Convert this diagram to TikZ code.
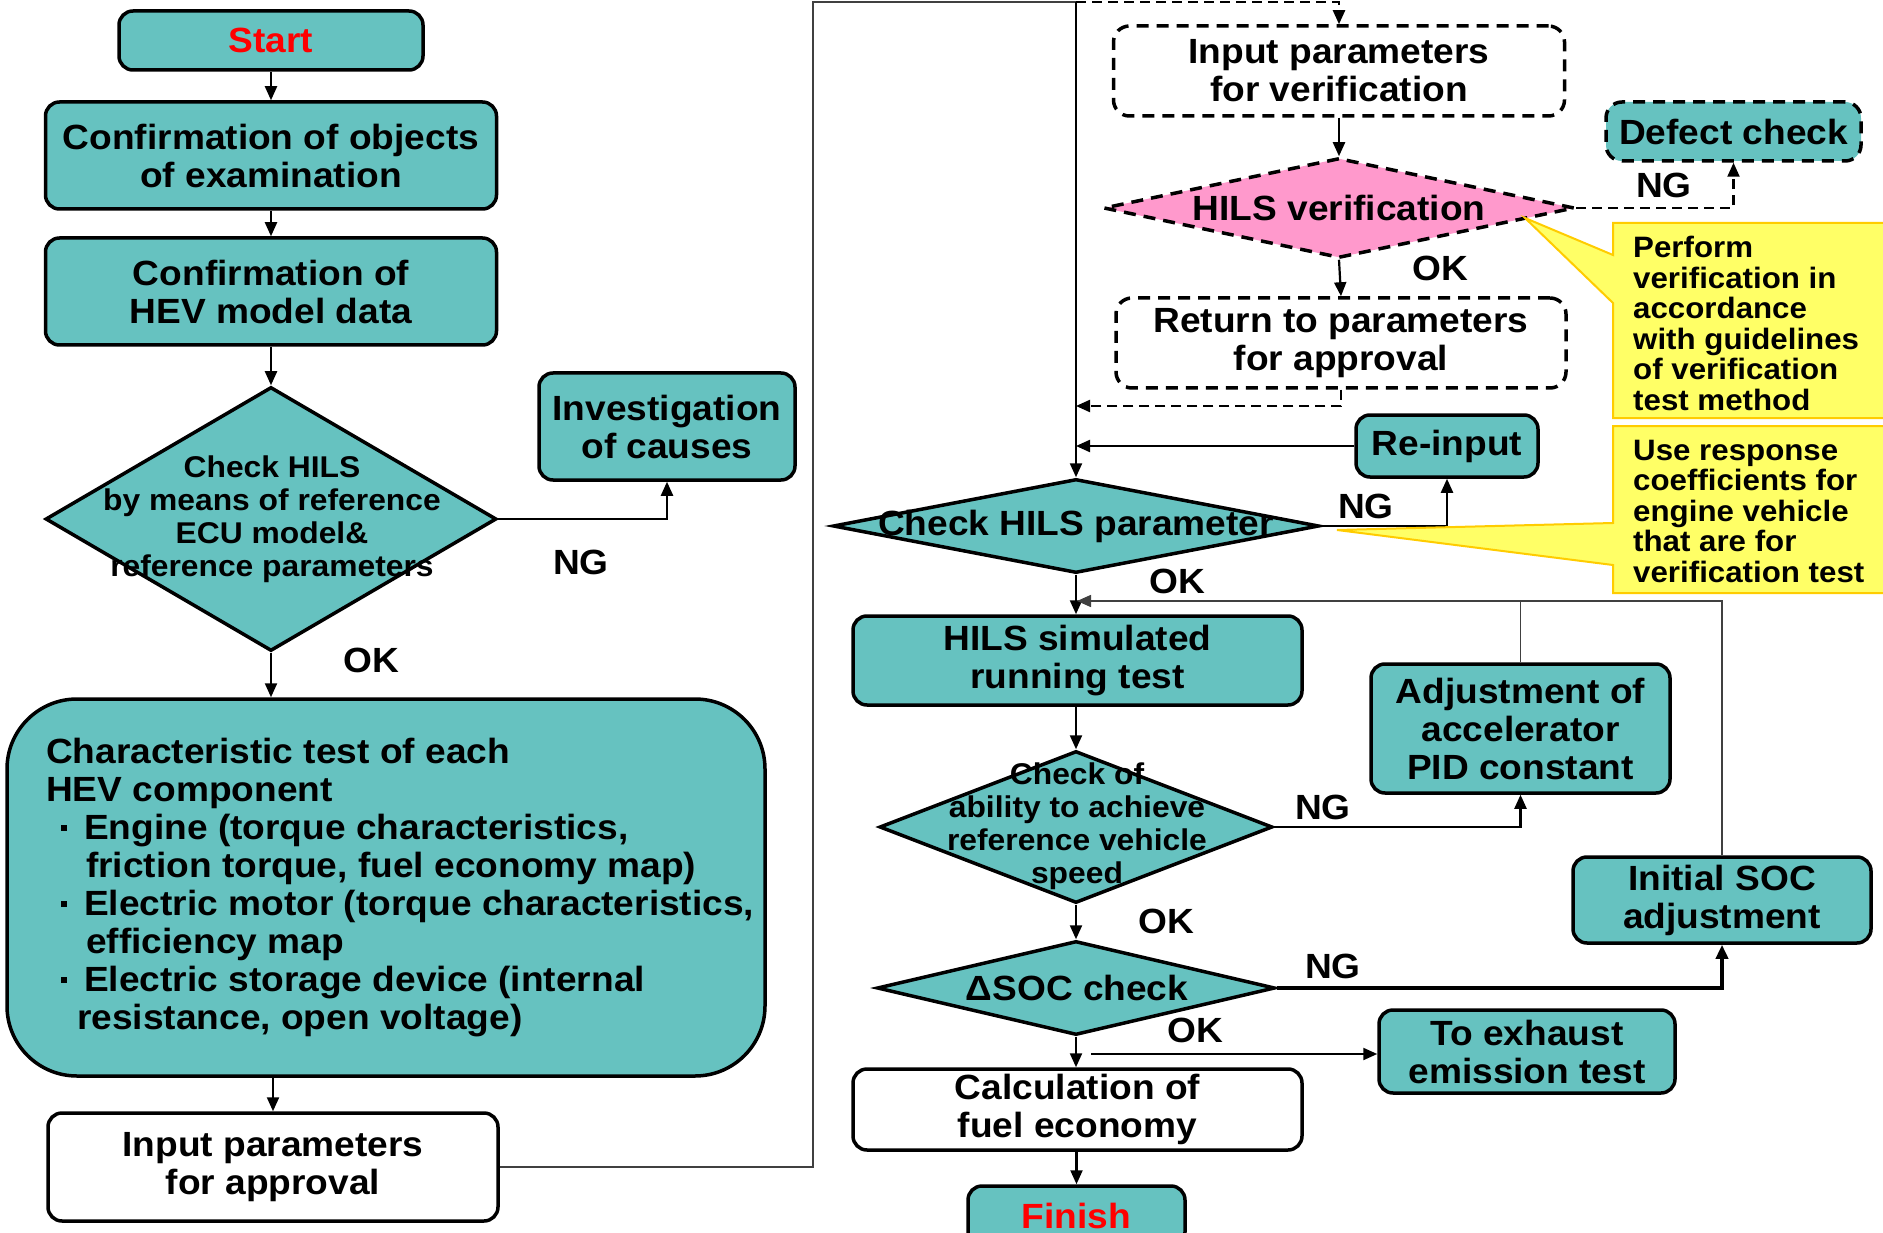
\documentclass[tikz,border=0pt]{standalone}
\usepackage{fontspec}
\newfontfamily\mf{Liberation Sans}[FakeStretch=1.06]
\usetikzlibrary{arrows.meta,shapes.geometric}
\definecolor{tealc}{HTML}{66C2C0}
\definecolor{pinkc}{HTML}{FF99CC}
\definecolor{yelc}{HTML}{FFFF66}
\definecolor{goldc}{HTML}{FFCC00}
\tikzset{
  base/.style={font=\mf\bfseries\fontsize{35}{38}\selectfont, align=center, inner sep=0pt},
  small/.style={font=\mf\bfseries\fontsize{30}{33}\selectfont, align=center, inner sep=0pt},
  note/.style={font=\mf\bfseries\fontsize{29.5}{30.5}\selectfont, align=left, inner sep=0pt},
  tbox/.style={base, draw, line width=3.5pt, rounded corners=14pt, fill=tealc},
  wbox/.style={base, draw, line width=3.5pt, rounded corners=14pt, fill=white},
  dbox/.style={base, draw, line width=3.5pt, rounded corners=16pt, dash pattern=on 12pt off 8pt, fill=white},
  dia/.style={diamond, draw, line width=3.5pt, fill=tealc, inner sep=0pt},
  lbl/.style={base},
  tip/.style={-{Triangle[length=14pt,width=12pt]}},
  arr/.style={line width=2.2pt, tip},
  darr/.style={line width=2.2pt, dash pattern=on 10pt off 6pt, tip},
  thinl/.style={line width=1.6pt, black!75},
  callout/.style={fill=yelc, draw=goldc, line width=2pt, line join=miter}
}
\begin{document}
\begin{tikzpicture}[x=1pt,y=-1pt]
\useasboundingbox (0,0) rectangle (1883,1233);
\fill[white] (0,0) rectangle (1883,1233);

% ---------- left column ----------
\node[tbox, minimum width=304pt, minimum height=59pt, text=red] (start) at (271,40.5) {Start};
\node[tbox, minimum width=451pt, minimum height=107pt] (conf1) at (271,155.5) {Confirmation of objects\\of examination};
\node[tbox, minimum width=451pt, minimum height=107pt] (conf2) at (271,291.5) {Confirmation of\\HEV model data};
\node[dia, minimum width=451pt, minimum height=264pt] (chk1) at (271,519) {};
\node[small] (chk1t) at (272,519) {Check HILS\\by means of reference\\ECU model\&\\reference parameters};
\node[tbox, minimum width=256pt, minimum height=107pt] (invest) at (667,426.5) {Investigation\\of causes};
\node[base, draw, line width=3.5pt, rounded corners=70pt, fill=tealc, minimum width=758pt, minimum height=377pt] (char) at (386,887.5) {};
\node[base, align=left, anchor=west] (chart) at (46,888) {Characteristic test of each\\
HEV component\\
\hspace{15pt}\raisebox{9pt}{\rule{6pt}{6pt}}\hspace{17pt}Engine (torque characteristics,\\
\hspace{40pt}friction torque, fuel economy map)\\
\hspace{15pt}\raisebox{9pt}{\rule{6pt}{6pt}}\hspace{17pt}Electric motor (torque characteristics,\\
\hspace{40pt}efficiency map\\
\hspace{15pt}\raisebox{9pt}{\rule{6pt}{6pt}}\hspace{17pt}Electric storage device (internal\\
\hspace{31pt}resistance, open voltage)};
\node[wbox, minimum width=450pt, minimum height=108pt] (inapp) at (273,1167) {Input parameters\\for approval};

\node[lbl] (ng1) at (581,562) {NG};
\node[lbl] (ok1) at (371,660) {OK};

\draw[arr] (start) -- (conf1);
\draw[arr] (conf1) -- (conf2);
\draw[arr] (conf2) -- (chk1.north);
\draw[arr] (chk1.east) -| (invest.south);
\draw[arr] (chk1.south) -- (chk1.south |- char.north);
\draw[arr] (char.south -| inapp.north) -- (inapp.north);

% ---------- right column ----------
\node[dbox, minimum width=451pt, minimum height=90pt] (inver) at (1339,71) {Input parameters\\for verification};
\node[dbox, fill=tealc, minimum width=255pt, minimum height=59pt] (defect) at (1733.5,131.5) {Defect check};
\node[diamond, draw, line width=3.5pt, dash pattern=on 12pt off 8pt, fill=pinkc, inner sep=0pt, minimum width=471pt, minimum height=100pt] (hilsv) at (1339,208) {};
\node[base] (hilsvt) at (1339,208) {HILS verification};
\node[dbox, minimum width=450pt, minimum height=90pt] (retapp) at (1341,343) {Return to parameters\\for approval};
\node[tbox, minimum width=182pt, minimum height=62pt] (reinput) at (1447,446) {Re-input};
\node[dia, minimum width=486pt, minimum height=94pt] (chkpar) at (1076,526) {};
\node[base] (chkpart) at (1076,526) {Check HILS parameter};
\node[tbox, minimum width=449pt, minimum height=89pt] (hilssim) at (1077.5,660.5) {HILS simulated\\running test};
\node[tbox, minimum width=299pt, minimum height=129pt] (adj) at (1520.5,728.5) {Adjustment of\\accelerator\\PID constant};
\node[dia, minimum width=393pt, minimum height=152pt] (chkab) at (1076,827) {};
\node[small] (chkabt) at (1077,826) {Check of\\ability to achieve\\reference vehicle\\speed};
\node[tbox, minimum width=298pt, minimum height=86pt] (isoc) at (1722,900) {Initial SOC\\adjustment};
\node[dia, minimum width=398pt, minimum height=94pt] (dsoc) at (1076,988) {};
\node[base] (dsoct) at (1077,988) {ΔSOC check};
\node[tbox, minimum width=296pt, minimum height=83pt] (exh) at (1527,1051.5) {To exhaust\\emission test};
\node[wbox, minimum width=449pt, minimum height=81pt] (calc) at (1077.5,1109.5) {Calculation of\\fuel economy};
\node[tbox, minimum width=217pt, minimum height=60pt, text=red] (finish) at (1076.5,1216) {Finish};

\node[lbl] (ng2) at (1664,185) {NG};
\node[lbl] (ok2) at (1440,268) {OK};
\node[lbl] (ng3) at (1366,506) {NG};
\node[lbl] (ok3) at (1177,581) {OK};
\node[lbl] (ng4) at (1323,807) {NG};
\node[lbl] (ok4) at (1166,921) {OK};
\node[lbl] (ng5) at (1333,966) {NG};
\node[lbl] (ok5) at (1195,1030) {OK};

% connectors right
\coordinate (tl) at (813,2);
\coordinate (tm) at (1076,2);
\coordinate (tr) at (1339,2);
\draw[thinl] (inapp.east) -| (tl) -- (tm);
\draw[arr] (tm) -- (chkpar.north);
\draw[darr] (tm) -- (tr) -- (inver.north);
\draw[arr] (inver.south) -- (hilsv.north);
\draw[darr] (hilsv.east) -| (defect.south);
\draw[arr] (hilsv.south) -- (retapp.north);
\coordinate (j1) at (1076,406);
\draw[darr] (retapp.south) |- (j1);
\coordinate (j2) at (1076,446);
\draw[arr] (reinput.west) -- (j2);
\draw[arr] (chkpar.east) -| (reinput.south);
\draw[arr] (chkpar.south) -- (hilssim.north -| chkpar.south);
\coordinate (j3) at (1077,601);
\draw[thinl] (adj.north) -- (adj.north |- j3);
\draw[thinl, tip] (isoc.north) |- (j3);
\draw[arr] (hilssim.south -| chkab.north) -- (chkab.north);
\draw[arr] (chkab.east) -| (adj.south);
\draw[arr] (chkab.south) -- (dsoc.north);
\draw[arr, line width=3.5pt] (dsoc.east) -| (isoc.south);
\draw[arr] (dsoc.south) -- (calc.north -| dsoc.south);
\coordinate (ex0) at (1091,1054);
\draw[arr] (ex0) -- (ex0 -| exh.west);
\draw[arr] (calc.south -| finish.north) -- (finish.north);

% callouts
\draw[callout] (1613,223) -- (1895,223) -- (1895,418) -- (1613,418) -- (1613,303) -- (1525,218) -- (1613,255) -- cycle;
\node[note, anchor=north west] (note1) at (1633,236) {Perform\\verification in\\accordance\\with guidelines\\of verification\\test method};
\draw[callout] (1613,426) -- (1895,426) -- (1895,593) -- (1613,593) -- (1613,565) -- (1337,530) -- (1613,523) -- cycle;
\node[note, anchor=north west] (note2) at (1633,440) {Use response\\coefficients for\\engine vehicle\\that are for\\verification test};
\end{tikzpicture}
\end{document}
